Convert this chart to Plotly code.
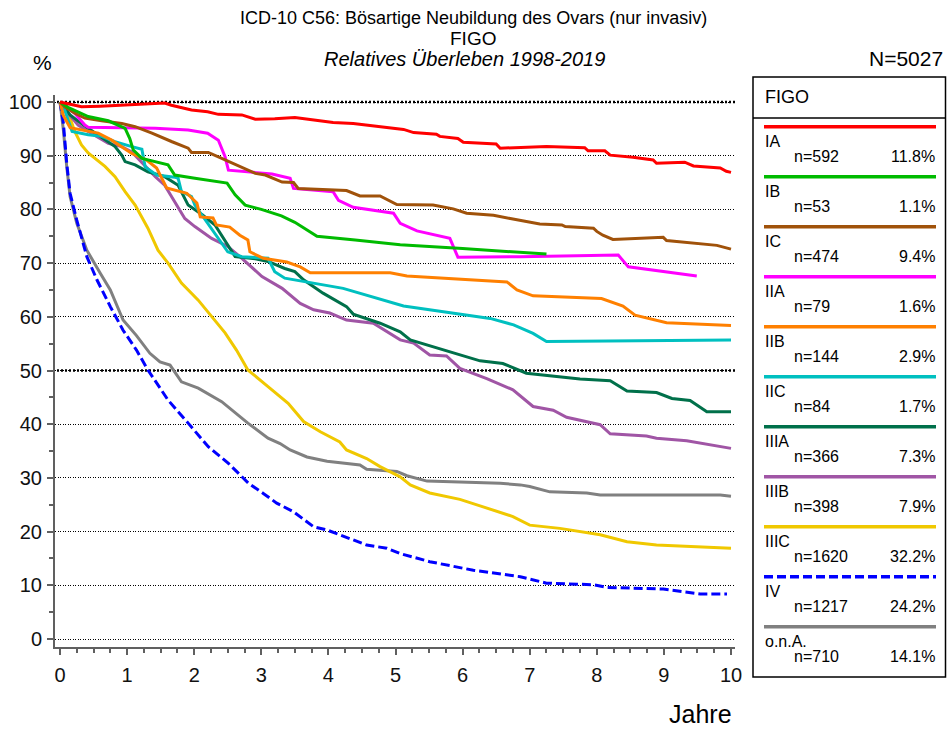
import plotly.graph_objects as go

# ---- survival curves (years since diagnosis, relative survival in %) ----
IA_t = [0, 0.07, 0.32, 0.6, 0.92, 1.25, 1.56, 1.66, 1.96, 2.2, 2.36, 2.71, 2.91, 3.2, 3.5, 3.87, 4.07, 4.37, 4.57, 4.92,
        5.12, 5.27, 5.61, 5.66, 5.93, 6.01, 6.5, 6.56, 7.25, 7.82, 7.87, 8.12, 8.2, 8.54, 8.84, 8.89, 9.31, 9.44, 9.84, 9.93, 10.0]
IA_s = [100, 99.8, 99.1, 99.2, 99.4, 99.6, 99.8, 99.4, 98.5, 98.2, 97.7, 97.6, 96.8, 96.9, 97.1, 96.5, 96.2, 96.0, 95.7, 95.1,
        94.9, 94.3, 94.0, 93.6, 93.2, 92.5, 92.2, 91.4, 91.7, 91.5, 90.9, 90.9, 90.1, 89.7, 89.2, 88.6, 88.8, 88.1, 87.7, 87.1, 86.9]

IB_t = [0, 0.12, 0.42, 0.72, 0.97, 1.04, 1.09, 1.22, 1.61, 1.71, 2.01, 2.49, 2.61, 2.76, 3.0, 3.3, 3.5, 3.83, 4.4, 5.07,
        6.0, 6.86, 7.25]
IB_s = [100, 99.0, 97.3, 96.5, 95.1, 93.2, 91.1, 89.5, 88.3, 86.4, 85.8, 84.9, 82.7, 80.8, 80.0, 78.8, 77.6, 75.0, 74.3, 73.4,
        72.7, 72.1, 71.7]

IC_t = [0, 0.07, 0.22, 0.37, 0.62, 0.92, 1.12, 1.37, 1.67, 1.91, 1.96, 2.21, 2.36, 2.71, 2.91, 3.06, 3.31, 3.48, 3.55, 4.27,
        4.47, 4.77, 5.02, 5.56, 5.86, 6.06, 6.46, 6.71, 7.0, 7.15, 7.48, 7.53, 7.95, 8.0, 8.09, 8.24, 8.99, 9.04, 9.79, 10.0]
IC_s = [100, 99.1, 97.9, 97.0, 96.5, 96.0, 95.4, 94.2, 92.6, 91.4, 90.6, 90.6, 89.8, 87.9, 86.7, 86.4, 85.1, 85.0, 83.9, 83.5,
        82.5, 82.5, 80.9, 80.8, 80.1, 79.3, 78.9, 78.3, 77.7, 77.3, 77.1, 76.8, 76.5, 75.9, 75.2, 74.4, 74.8, 74.2, 73.3, 72.6]

IIA_t = [0, 0.07, 0.22, 0.37, 0.42, 1.42, 1.91, 2.2, 2.36, 2.46, 2.51, 3.16, 3.43, 3.48, 4.07, 4.15, 4.37, 4.97, 5.07, 5.32,
         5.81, 5.93, 6.86, 8.32, 8.47, 9.49]
IIA_s = [100, 99.4, 97.9, 95.7, 95.3, 95.1, 94.8, 94.2, 92.9, 89.8, 87.3, 86.6, 85.8, 83.9, 83.3, 81.7, 80.4, 79.3, 77.4, 76.0,
         74.6, 71.1, 71.2, 71.5, 69.3, 67.6]

IIB_t = [0, 0.05, 0.15, 0.42, 0.57, 0.77, 1.07, 1.29, 1.44, 1.59, 1.89, 2.04, 2.09, 2.28, 2.33, 2.53, 2.68, 2.8, 2.83, 3.03,
         3.38, 3.58, 3.73, 4.92, 5.17, 6.66, 6.81, 7.05, 8.07, 8.39, 8.57, 9.04, 10.0]
IIB_s = [100, 97.5, 95.2, 94.6, 94.2, 92.9, 90.4, 89.2, 87.7, 84.0, 83.0, 81.2, 78.6, 78.4, 77.1, 76.7, 75.2, 74.3, 72.1, 70.9,
         70.2, 69.3, 68.2, 68.2, 67.6, 66.5, 65.0, 63.9, 63.4, 62.0, 60.3, 58.9, 58.4]

IIC_t = [0, 0.07, 0.18, 0.42, 0.62, 0.82, 1.07, 1.22, 1.27, 1.44, 1.71, 1.76, 1.81, 1.96, 2.01, 2.11, 2.26, 2.5, 2.71, 3.1,
         3.2, 3.35, 4.22, 5.12, 6.41, 6.76, 7.05, 7.25, 10.0]
IIC_s = [100, 98.5, 94.5, 93.9, 93.6, 92.6, 91.7, 91.2, 87.9, 86.4, 86.0, 85.8, 83.3, 82.4, 80.8, 79.0, 76.5, 72.1, 71.2, 70.9,
         68.4, 67.2, 65.3, 62.0, 59.7, 58.5, 56.9, 55.4, 55.7]

IIIA_t = [0, 0.15, 0.35, 0.57, 0.82, 0.92, 0.97, 1.12, 1.31, 1.56, 1.76, 1.91, 2.12, 2.31, 2.5, 2.61, 2.91, 3.1, 3.35, 3.5,
          3.63, 3.92, 4.27, 4.37, 4.77, 5.07, 5.22, 5.51, 5.96, 6.26, 6.6, 6.95, 7.75, 8.2, 8.45, 8.89, 9.12, 9.39, 9.64, 10.0]
IIIA_s = [100, 97.6, 95.7, 93.9, 91.7, 90.1, 88.9, 88.3, 87.0, 86.1, 84.5, 80.8, 79.0, 77.1, 73.4, 71.2, 70.8, 70.3, 69.0, 68.4,
          66.9, 64.4, 61.9, 60.5, 58.8, 57.2, 55.7, 54.6, 52.9, 51.8, 51.3, 49.5, 48.4, 48.1, 46.2, 45.9, 44.8, 44.4, 42.3, 42.3]

IIIB_t = [0, 0.12, 0.27, 0.42, 0.72, 0.92, 1.07, 1.27, 1.42, 1.56, 1.71, 1.86, 2.01, 2.26, 2.5, 2.71, 3.01, 3.31, 3.58, 3.78,
          4.02, 4.27, 4.67, 4.92, 5.07, 5.27, 5.51, 5.76, 5.96, 6.36, 6.75, 7.05, 7.35, 7.55, 8.05, 8.2, 8.74, 8.89, 9.34, 10.0]
IIIB_s = [100, 97.9, 95.7, 94.5, 92.3, 91.7, 90.7, 88.0, 86.1, 84.5, 81.4, 78.3, 76.8, 74.6, 73.1, 70.9, 67.5, 65.3, 62.5, 61.3,
          60.7, 59.4, 58.8, 56.9, 55.7, 55.1, 52.9, 52.7, 50.4, 48.5, 46.4, 43.3, 42.6, 41.3, 39.9, 38.2, 37.8, 37.4, 36.9, 35.5]

IIIC_t = [0, 0.07, 0.15, 0.22, 0.32, 0.42, 0.67, 0.82, 0.97, 1.12, 1.31, 1.46, 1.61, 1.81, 2.06, 2.26, 2.46, 2.63, 2.8, 3.1,
          3.4, 3.63, 3.88, 4.17, 4.27, 4.57, 4.77, 5.07, 5.22, 5.51, 5.76, 5.96, 6.26, 6.75, 7.0, 7.45, 8.05, 8.45, 8.89, 10.0]
IIIC_s = [100, 98.9, 97.0, 94.5, 92.0, 90.5, 88.0, 86.1, 83.3, 80.8, 76.5, 72.4, 70.0, 66.3, 63.1, 60.0, 57.0, 53.8, 50.1, 47.0,
          43.9, 40.5, 38.6, 36.7, 35.2, 33.6, 32.1, 30.2, 28.7, 27.2, 26.5, 26.0, 24.8, 22.8, 21.2, 20.6, 19.4, 18.1, 17.5, 16.9]

IV_t = [0, 0.02, 0.05, 0.1, 0.15, 0.25, 0.4, 0.55, 0.75, 0.94, 1.14, 1.31, 1.61, 1.91, 2.21, 2.51, 2.81, 3.03, 3.23, 3.48,
        3.78, 3.98, 4.32, 4.57, 4.87, 5.07, 5.51, 6.16, 6.86, 7.25, 7.95, 8.15, 8.99, 9.54, 9.94]
IV_s = [100, 98.5, 96.1, 88.6, 83.0, 78.0, 71.2, 66.9, 61.9, 57.5, 53.8, 50.1, 44.5, 40.2, 35.8, 32.7, 29.0, 27.1, 25.3, 23.7,
        20.9, 20.3, 18.7, 17.5, 16.9, 15.9, 14.4, 12.8, 11.6, 10.4, 10.1, 9.6, 9.3, 8.4, 8.4]

ONA_t = [0, 0.05, 0.1, 0.15, 0.25, 0.4, 0.6, 0.75, 0.94, 1.14, 1.34, 1.49, 1.64, 1.81, 2.06, 2.41, 2.8, 3.1, 3.28, 3.43,
         3.68, 3.98, 4.47, 4.57, 5.02, 5.17, 5.47, 6.56, 6.86, 7.0, 7.3, 7.85, 8.05, 9.84, 10.0]
ONA_s = [100, 94.8, 88.0, 82.4, 77.4, 72.4, 68.1, 65.0, 59.4, 56.5, 53.2, 51.6, 51.0, 47.9, 46.7, 44.2, 40.2, 37.4, 36.4, 35.2,
         33.9, 33.1, 32.4, 31.6, 31.2, 30.4, 29.4, 29.0, 28.7, 28.4, 27.4, 27.2, 26.8, 26.8, 26.6]

# ---- stage groups ----
stages = ["IA", "IB", "IC", "IIA", "IIB", "IIC", "IIIA", "IIIB", "IIIC", "IV", "o.n.A."]
counts = [592, 53, 474, 79, 144, 84, 366, 398, 1620, 1217, 710]
shares = [11.8, 1.1, 9.4, 1.6, 2.9, 1.7, 7.3, 7.9, 32.2, 24.2, 14.1]
times = [IA_t, IB_t, IC_t, IIA_t, IIB_t, IIC_t, IIIA_t, IIIB_t, IIIC_t, IV_t, ONA_t]
surv = [IA_s, IB_s, IC_s, IIA_s, IIB_s, IIC_s, IIIA_s, IIIB_s, IIIC_s, IV_s, ONA_s]
colors = ["#ff0000", "#00bb00", "#a0520a", "#ff00ff", "#ff8000", "#00c0c0",
          "#00704a", "#a055a5", "#f0c800", "#0000ff", "#808080"]
dashes = ["solid"] * 9 + ["9px,4px", "solid"]

x_ticks = list(range(0, 11))
y_ticks = list(range(0, 101, 10))

FONT = "Liberation Sans, Arial, sans-serif"
W_FIG, H_FIG = 947, 729
L, R, T, B = 55, 212, 95, 82
PW, PH = W_FIG - L - R, H_FIG - T - B


def px(x):
    return (x - L) / PW


def py(y):
    return (H_FIG - B - y) / PH


fig = go.Figure()

# draw back to front so the early stages end up on top
for i in reversed(range(len(stages))):
    fig.add_trace(go.Scatter(
        x=times[i], y=surv[i], mode="lines", name=stages[i],
        line=dict(color=colors[i], width=3, dash=dashes[i]),
        showlegend=False, hoverinfo="x+y+name",
    ))

axis_common = dict(
    showline=True, linecolor="#606060", linewidth=2,
    ticks="outside", tickcolor="#606060", tickwidth=1.5, ticklen=6,
    tickfont=dict(family=FONT, size=20, color="#111111"),
    zeroline=False, automargin=False,
)

fig.update_xaxes(
    range=[-5 / 67.1, 10 + 4 / 67.1],
    tickvals=x_ticks, ticktext=[str(v) for v in x_ticks],
    showgrid=False,
    minor=dict(dtick=0.25, tick0=0, ticks="outside", ticklen=4, tickcolor="#606060", tickwidth=1.5),
    ticklabelstandoff=3,
    **axis_common,
)
fig.update_yaxes(
    range=[-8 / 5.37, 100 + 7 / 5.37],
    tickvals=y_ticks, ticktext=[str(v) for v in y_ticks],
    showgrid=True, gridcolor="#000000", gridwidth=1.2, griddash="1px,1.5px",
    minor=dict(dtick=5, tick0=0, ticks="outside", ticklen=4, tickcolor="#606060", tickwidth=1.5),
    ticklabelstandoff=1,
    **axis_common,
)

# heavier dotted reference lines at 50 % and 100 %
for ref in (50, 100):
    fig.add_shape(type="line", xref="paper", yref="y", x0=px(57), x1=1.0, y0=ref, y1=ref,
                  line=dict(color="#000000", width=2.5, dash="2px,2px"), layer="below")

annotations = []


def text(s, x, y, size, xanchor="center", yanchor="middle", italic=False):
    annotations.append(dict(
        text=s, x=px(x), y=py(y), xref="paper", yref="paper",
        xanchor=xanchor, yanchor=yanchor, showarrow=False,
        font=dict(family=FONT, size=size, color="#000000",
                  style="italic" if italic else "normal"),
    ))


text("ICD-10 C56: Bösartige Neubildung des Ovars (nur invasiv)", 473, 18, 18)
text("FIGO", 473, 38, 19)
text("Relatives Überleben 1998-2019", 464, 59, 20, italic=True)
text("%", 42, 62, 21)
text("N=5027", 945, 59, 21, xanchor="right")
text("Jahre", 700, 714, 25)

# legend panel
shapes = [
    dict(type="rect", xref="paper", yref="paper", x0=px(753), x1=px(945.5), y0=py(677), y1=py(77),
         line=dict(color="#000000", width=1.5), fillcolor="rgba(0,0,0,0)"),
    dict(type="line", xref="paper", yref="paper", x0=px(753), x1=px(945.5), y0=py(118), y1=py(118),
         line=dict(color="#000000", width=1.5)),
]
text("FIGO", 763, 97, 18, xanchor="left")
for i, name in enumerate(stages):
    yl = 126.7 + 50 * i
    shapes.append(dict(type="line", xref="paper", yref="paper", x0=px(764), x1=px(936), y0=py(yl), y1=py(yl),
                       line=dict(color=colors[i], width=3.5, dash=dashes[i])))
    text(name, 763, yl + 15, 16, xanchor="left")
    text(f"n={counts[i]}", 792, yl + 30, 16, xanchor="left")
    text(f"{shares[i]:.1f}%", 937, yl + 30, 16, xanchor="right")

for s in shapes:
    fig.add_shape(**s)

fig.update_layout(
    width=W_FIG, height=H_FIG,
    margin=dict(l=L, r=R, t=T, b=B, pad=0),
    paper_bgcolor="#ffffff", plot_bgcolor="#ffffff",
    font=dict(family=FONT, color="#000000"),
    annotations=annotations,
    showlegend=False,
)

fig.write_html("out.html")
